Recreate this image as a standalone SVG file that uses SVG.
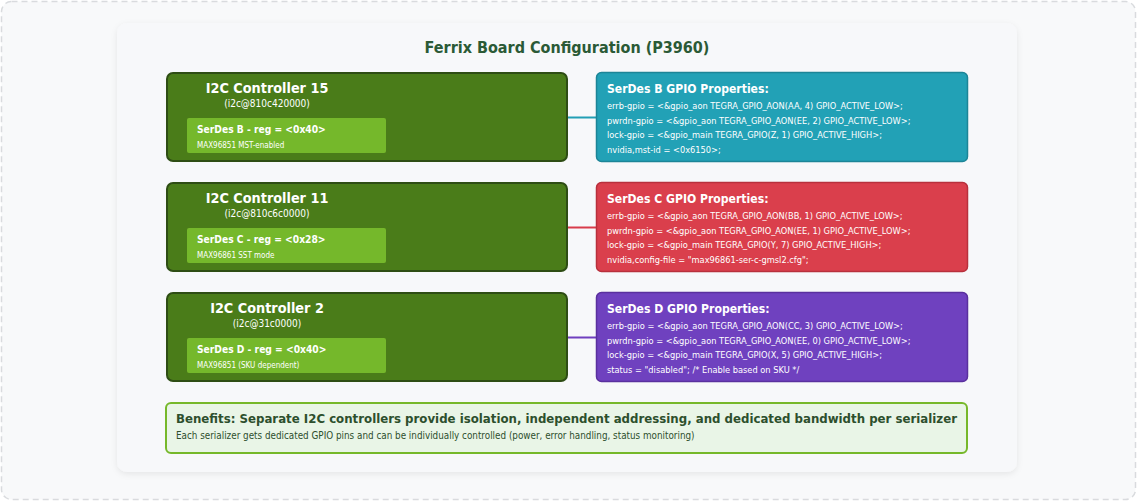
<svg xmlns="http://www.w3.org/2000/svg" width="1139" height="503" viewBox="0 0 1139 503">
<style>
text{font-family:"DejaVu Sans Condensed","DejaVu Sans",sans-serif}
.ctl{fill:#4a7c19;stroke:#2e4d14;stroke-width:2}
.sub{fill:#75b82b}
.h1{font-size:14.3px;font-weight:bold;fill:#fff}
.addr{font-size:10px;fill:#fff}
.sh{font-size:10.2px;font-weight:bold;fill:#fff}
.ss{font-size:8px;fill:#fff}
.ph{font-size:12.1px;font-weight:bold;fill:#fff}
.pl{font-size:9.2px;fill:#fff}
</style>
<defs>
<filter id="sh" x="-5%" y="-5%" width="110%" height="110%">
<feDropShadow dx="0" dy="2" stdDeviation="3" flood-color="#000" flood-opacity="0.08"/>
</filter>
</defs>
<rect x="1.5" y="1.5" width="1134" height="498" rx="10" fill="#f8f9fa" stroke="#d9dbde" stroke-width="1.5" stroke-dasharray="6 4"/>
<rect x="117" y="23" width="900" height="449" rx="10" fill="#f7f8fa" filter="url(#sh)"/>
<text x="567" y="53" text-anchor="middle" style="font-size:16px;font-weight:bold;fill:#2b5a36">Ferrix Board Configuration (P3960)</text>

<g id="connectors">
<line x1="568" y1="117.5" x2="596" y2="117.5" stroke="#229fb5" stroke-width="2"/>
<line x1="568" y1="227.5" x2="596" y2="227.5" stroke="#d83c4b" stroke-width="2"/>
<line x1="568" y1="337.5" x2="596" y2="337.5" stroke="#6f3fbf" stroke-width="2"/>
</g>

<g id="ctrl15">
<rect class="ctl" x="167" y="73" width="400" height="88" rx="6"/>
<text class="h1" x="267" y="93" text-anchor="middle">I2C Controller 15</text>
<text class="addr" x="267" y="107" text-anchor="middle">(i2c@810c420000)</text>
<rect class="sub" x="187" y="118" width="199" height="35" rx="2"/>
<text class="sh" x="197" y="133">SerDes B - reg = &lt;0x40&gt;</text>
<text class="ss" x="197" y="148">MAX96851 MST-enabled</text>
</g>
<g id="ctrl11">
<rect class="ctl" x="167" y="183" width="400" height="88" rx="6"/>
<text class="h1" x="267" y="203" text-anchor="middle">I2C Controller 11</text>
<text class="addr" x="267" y="217" text-anchor="middle">(i2c@810c6c0000)</text>
<rect class="sub" x="187" y="228" width="199" height="35" rx="2"/>
<text class="sh" x="197" y="243">SerDes C - reg = &lt;0x28&gt;</text>
<text class="ss" x="197" y="258">MAX96861 SST mode</text>
</g>
<g id="ctrl2">
<rect class="ctl" x="167" y="293" width="400" height="88" rx="6"/>
<text class="h1" x="267" y="313" text-anchor="middle">I2C Controller 2</text>
<text class="addr" x="267" y="327" text-anchor="middle">(i2c@31c0000)</text>
<rect class="sub" x="187" y="338" width="199" height="35" rx="2"/>
<text class="sh" x="197" y="353">SerDes D - reg = &lt;0x40&gt;</text>
<text class="ss" x="197" y="368">MAX96851 (SKU dependent)</text>
</g>

<g id="propsB">
<rect x="596.5" y="72.5" width="371" height="89" rx="5" fill="#22a1b6" stroke="#1c8597" stroke-width="1.5"/>
<text class="ph" x="607" y="93">SerDes B GPIO Properties:</text>
<text class="pl" x="607" y="109">errb-gpio = &lt;&amp;gpio_aon TEGRA_GPIO_AON(AA, 4) GPIO_ACTIVE_LOW&gt;;</text>
<text class="pl" x="607" y="124">pwrdn-gpio = &lt;&amp;gpio_aon TEGRA_GPIO_AON(EE, 2) GPIO_ACTIVE_LOW&gt;;</text>
<text class="pl" x="607" y="138">lock-gpio = &lt;&amp;gpio_main TEGRA_GPIO(Z, 1) GPIO_ACTIVE_HIGH&gt;;</text>
<text class="pl" x="607" y="153">nvidia,mst-id = &lt;0x6150&gt;;</text>
</g>
<g id="propsC">
<rect x="596.5" y="182.5" width="371" height="89" rx="5" fill="#da3f4c" stroke="#b8303c" stroke-width="1.5"/>
<text class="ph" x="607" y="203">SerDes C GPIO Properties:</text>
<text class="pl" x="607" y="219">errb-gpio = &lt;&amp;gpio_aon TEGRA_GPIO_AON(BB, 1) GPIO_ACTIVE_LOW&gt;;</text>
<text class="pl" x="607" y="234">pwrdn-gpio = &lt;&amp;gpio_aon TEGRA_GPIO_AON(EE, 1) GPIO_ACTIVE_LOW&gt;;</text>
<text class="pl" x="607" y="248">lock-gpio = &lt;&amp;gpio_main TEGRA_GPIO(Y, 7) GPIO_ACTIVE_HIGH&gt;;</text>
<text class="pl" x="607" y="263">nvidia,config-file = "max96861-ser-c-gmsl2.cfg";</text>
</g>
<g id="propsD">
<rect x="596.5" y="292.5" width="371" height="89" rx="5" fill="#6f41bf" stroke="#5a309e" stroke-width="1.5"/>
<text class="ph" x="607" y="313">SerDes D GPIO Properties:</text>
<text class="pl" x="607" y="329">errb-gpio = &lt;&amp;gpio_aon TEGRA_GPIO_AON(CC, 3) GPIO_ACTIVE_LOW&gt;;</text>
<text class="pl" x="607" y="344">pwrdn-gpio = &lt;&amp;gpio_aon TEGRA_GPIO_AON(EE, 0) GPIO_ACTIVE_LOW&gt;;</text>
<text class="pl" x="607" y="358">lock-gpio = &lt;&amp;gpio_main TEGRA_GPIO(X, 5) GPIO_ACTIVE_HIGH&gt;;</text>
<text class="pl" x="607" y="373">status = "disabled"; /* Enable based on SKU */</text>
</g>

<g id="benefits">
<rect x="166" y="403" width="801" height="50" rx="5" fill="#e9f5e7" stroke="#76b82a" stroke-width="2"/>
<text x="176" y="423" textLength="781" lengthAdjust="spacingAndGlyphs" style="font-size:12px;font-weight:bold;fill:#2d4f2d">Benefits: Separate I2C controllers provide isolation, independent addressing, and dedicated bandwidth per serializer</text>
<text x="176" y="439" style="font-size:9.8px;fill:#2d4f2d">Each serializer gets dedicated GPIO pins and can be individually controlled (power, error handling, status monitoring)</text>
</g>
</svg>
